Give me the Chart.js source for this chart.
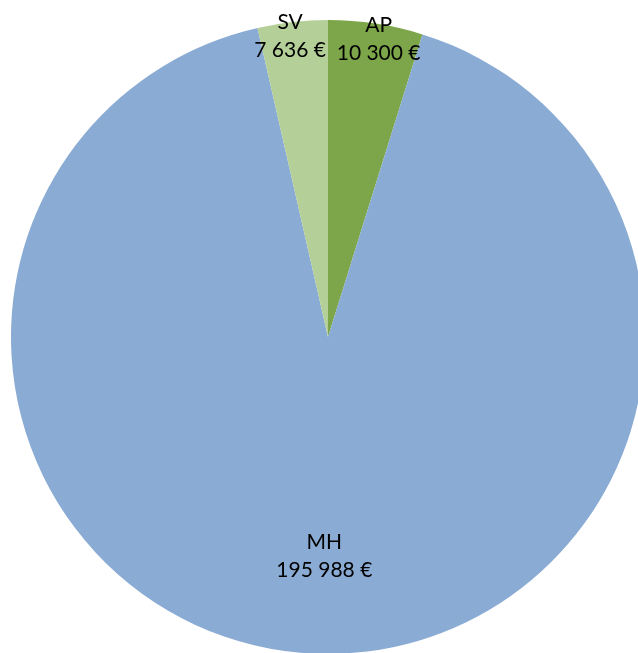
<!DOCTYPE html>
<html>
<head>
<meta charset="utf-8">
<script src="https://cdn.jsdelivr.net/npm/chart.js@4.4.1/dist/chart.umd.min.js"></script>
<style>
  html, body { margin: 0; padding: 0; background: #fff; overflow: hidden; }
  #wrap { width: 656px; height: 674px; position: relative; }
</style>
</head>
<body>
<div id="wrap"><canvas id="pie"></canvas></div>
<script>
// ── Data ──
const labels = ["AP", "MH", "SV"];
const values = [10300, 195988, 7636];
const colors = ["#7DA64A", "#8AABD3", "#B4CF98"];
// label placement: distance from center (fraction of radius) and small nudges
const labelRadius = [0.955, 0.70, 0.955];
const labelNudgeX = [5, 5, -4];
const labelNudgeY = [2, -2, 0];

function fmtEuro(v) {
  return String(v).replace(/\B(?=(\d{3})+(?!\d))/g, " ") + " €";
}

// ── Slice labels drawn at each arc ──
const sliceLabels = {
  id: "sliceLabels",
  afterDatasetsDraw(chart) {
    const ctx = chart.ctx;
    const meta = chart.getDatasetMeta(0);
    ctx.save();
    ctx.font = "21px Lato, 'Open Sans', sans-serif";
    ctx.fillStyle = "#000";
    ctx.textAlign = "center";
    ctx.textBaseline = "middle";
    meta.data.forEach((arc, i) => {
      const { x, y, startAngle, endAngle, outerRadius } = arc.getProps(
        ["x", "y", "startAngle", "endAngle", "outerRadius"], true);
      const mid = (startAngle + endAngle) / 2;
      const r = outerRadius * labelRadius[i];
      const cx = x + Math.cos(mid) * r + labelNudgeX[i];
      const cy = y + Math.sin(mid) * r + labelNudgeY[i];
      ctx.fillText(labels[i], cx, cy - 14);
      ctx.fillText(fmtEuro(values[i]), cx, cy + 14);
    });
    ctx.restore();
  }
};

new Chart(document.getElementById("pie"), {
  type: "pie",
  data: {
    labels: labels,
    datasets: [{
      data: values,
      backgroundColor: colors,
      borderWidth: 0
    }]
  },
  options: {
    responsive: true,
    maintainAspectRatio: false,
    animation: false,
    layout: { padding: 11 },
    plugins: {
      legend: { display: false },
      tooltip: { enabled: false }
    }
  },
  plugins: [sliceLabels]
});
</script>
</body>
</html>
